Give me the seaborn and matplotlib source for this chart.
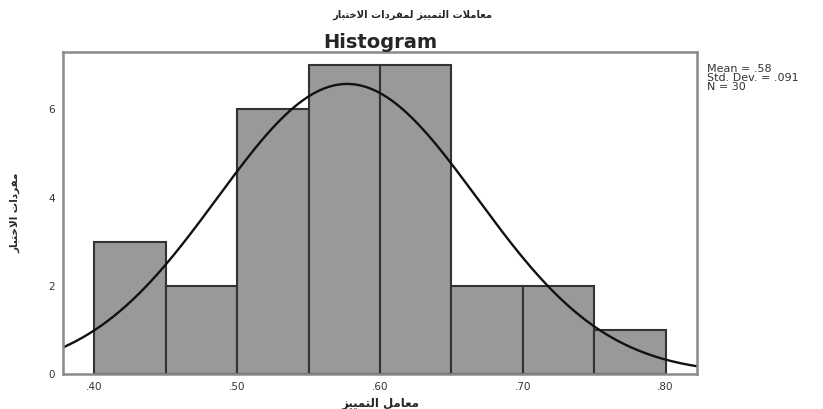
import numpy as np
import matplotlib
matplotlib.use("Agg")
import matplotlib.pyplot as plt
import seaborn as sns

# ---- data ----
bin_edges = [0.40, 0.45, 0.50, 0.55, 0.60, 0.65, 0.70, 0.75, 0.80]
counts = [3, 2, 6, 7, 7, 2, 2, 1]
mean_val = 0.577
std_val = 0.091
n_val = 30
x_ticks = [0.40, 0.50, 0.60, 0.70, 0.80]
x_tick_labels = [".40", ".50", ".60", ".70", ".80"]
y_ticks = [0, 2, 4, 6]

suptitle_text = "معاملات التمييز لمفردات الاختبار"
title_text = "Histogram"
xlabel_text = "معامل التمييز"
ylabel_text = "مفردات الاختبار"
stats_lines = ["Mean = .58", "Std. Dev. = .091", "N = 30"]

# ---- minimal Arabic shaping (presentation forms + RTL order) ----
FORMS = {
    'ا': (0xFE8D, 0xFE8E), 'ب': (0xFE8F, 0xFE90, 0xFE91, 0xFE92),
    'ت': (0xFE95, 0xFE96, 0xFE97, 0xFE98), 'خ': (0xFEA5, 0xFEA6, 0xFEA7, 0xFEA8),
    'د': (0xFEA9, 0xFEAA), 'ر': (0xFEAD, 0xFEAE), 'ز': (0xFEAF, 0xFEB0),
    'ع': (0xFEC9, 0xFECA, 0xFECB, 0xFECC), 'ف': (0xFED1, 0xFED2, 0xFED3, 0xFED4),
    'ل': (0xFEDD, 0xFEDE, 0xFEDF, 0xFEE0), 'م': (0xFEE1, 0xFEE2, 0xFEE3, 0xFEE4),
    'ي': (0xFEF1, 0xFEF2, 0xFEF3, 0xFEF4), 'LA': (0xFEFB, 0xFEFC),
}


def shape(s):
    toks = []
    i = 0
    while i < len(s):
        if s[i] == 'ل' and i + 1 < len(s) and s[i + 1] == 'ا':
            toks.append('LA')
            i += 2
        else:
            toks.append(s[i])
            i += 1
    out = []
    for k, t in enumerate(toks):
        if t not in FORMS:
            out.append(t)
            continue
        f = FORMS[t]
        prev_j = k > 0 and toks[k - 1] in FORMS and len(FORMS[toks[k - 1]]) == 4
        next_j = len(f) == 4 and k + 1 < len(toks) and toks[k + 1] in FORMS
        if prev_j and next_j:
            c = f[3]
        elif prev_j:
            c = f[1]
        elif next_j:
            c = f[2]
        else:
            c = f[0]
        out.append(chr(c))
    return "".join(out)[::-1]


sns.set_theme(style="white")
plt.rcParams['font.family'] = ['DejaVu Sans']

fig = plt.figure(figsize=(8.23, 4.09), dpi=100)
ax = fig.add_axes([63 / 823, 1 - 374 / 409, (697 - 63) / 823, (374 - 52) / 409])

centers = [(bin_edges[i] + bin_edges[i + 1]) / 2 for i in range(len(counts))]
sns.histplot(x=centers, weights=counts, bins=bin_edges, ax=ax,
             color="#999999", alpha=1.0, edgecolor="#333333", linewidth=1.5)

xs = np.linspace(0.378, 0.822, 300)
binw = bin_edges[1] - bin_edges[0]
ys = n_val * binw / (std_val * np.sqrt(2 * np.pi)) * np.exp(-0.5 * ((xs - mean_val) / std_val) ** 2)
sns.lineplot(x=xs, y=ys, ax=ax, color="#111111", linewidth=1.7)

ax.set_xlim(0.378, 0.822)
ax.set_ylim(0, 7.3)
ax.set_xticks(x_ticks)
ax.set_xticklabels(x_tick_labels, fontsize=7.5, color="#333333")
ax.set_yticks(y_ticks)
ax.set_yticklabels([str(v) for v in y_ticks], fontsize=7.5, color="#333333")
ax.tick_params(axis="both", direction="out", length=4, width=1, color="#777777", pad=2)
for sp in ax.spines.values():
    sp.set_color("#8a8a8a")
    sp.set_linewidth(1.8)

ax.set_xlabel(shape(xlabel_text), fontsize=8.5, fontweight="bold", labelpad=3)
ax.set_ylabel(shape(ylabel_text), fontsize=7.5, fontweight="bold", labelpad=20)
ax.set_title(title_text, fontsize=14, fontweight="bold", pad=3)
fig.text(412 / 823, 1 - 15 / 409, shape(suptitle_text), ha="center", va="center",
         fontsize=7.2, fontweight="bold")

fig.text(707 / 823, 1 - 64 / 409, "\n".join(stats_lines), ha="left", va="top",
         fontsize=8, linespacing=0.85, color="#333333")

fig.savefig("out.png", dpi=100, facecolor="white")
